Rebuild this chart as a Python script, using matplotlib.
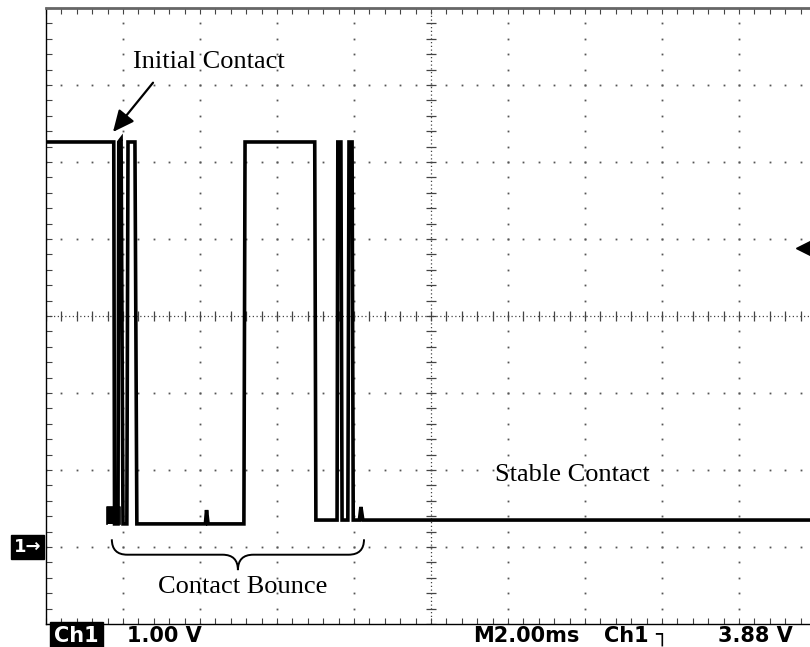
import matplotlib
matplotlib.use("Agg")
import matplotlib.pyplot as plt
import matplotlib.transforms as mtransforms
from matplotlib.path import Path
from matplotlib.patches import PathPatch
import numpy as np

# scope settings: 2 ms/div, 1 V/div, 10 x 8 divisions
t_min, t_max = 0.0, 20.0
v_min, v_max = -1.0, 7.0

# bouncing switch trace (ms, V)
trace_t = [0.00, 1.76, 1.78, 1.87, 1.89, 1.95, 2.00, 2.10, 2.13, 2.31, 2.36,
           4.14, 4.17, 4.21, 5.14, 5.17, 6.98, 7.01, 7.56, 7.58, 7.66, 7.69,
           7.84, 7.87, 7.95, 7.98, 8.14, 8.18, 8.23, 20.0]
trace_v = [5.26, 5.26, 0.30, 0.30, 5.26, 5.30, 0.30, 0.30, 5.26, 5.26, 0.30,
           0.30, 0.48, 0.30, 0.30, 5.26, 5.26, 0.35, 0.35, 5.26, 5.26, 0.35,
           0.35, 5.26, 5.26, 0.35, 0.35, 0.52, 0.35, 0.35]

# little glitch box near the first fall
glitch_t = [1.58, 1.58, 1.92, 1.92]
glitch_v = [0.30, 0.52, 0.52, 0.30]

trigger_level = 3.88
status_left = ["Ch1", "1.00 V"]
status_right = ["M2.00ms", "Ch1", "\u2510", "3.88 V"]

fig = plt.figure(figsize=(8.10, 6.47), dpi=100)
# axes runs a little past the right edge, like the cropped screenshot
ax = fig.add_axes([46 / 810, 23 / 647, 770 / 810, 616 / 647])
ax.set_xlim(t_min, t_max)
ax.set_ylim(v_min, v_max)

for s in ("left", "bottom"):
    ax.spines[s].set_linewidth(1.0)
ax.spines["top"].set_linewidth(2.0)
ax.spines["top"].set_color("#666666")
ax.spines["right"].set_visible(False)

# border ticks every minor division
ax.set_xticks(np.arange(t_min, t_max + 0.01, 2.0))
ax.set_xticks(np.arange(t_min, t_max + 0.01, 0.4), minor=True)
ax.set_yticks(np.arange(v_min, v_max + 0.01, 1.0))
ax.set_yticks(np.arange(v_min, v_max + 0.01, 0.2), minor=True)
ax.tick_params(which="both", direction="in", top=True, bottom=True, left=True,
               right=False, labelbottom=False, labelleft=False,
               length=4, width=0.8, color="#444444")

# dotted graticule
minor_t = np.arange(t_min, t_max + 0.01, 0.4)
minor_v = np.arange(v_min, v_max + 0.01, 0.2)
dot_kw = dict(ls="none", marker="s", ms=1.3, mew=0, color="#555555")
for v in range(0, 7):
    if v == 3:
        continue
    ax.plot(minor_t, np.full_like(minor_t, v), **dot_kw)
for t in range(2, 20, 2):
    if t == 10:
        continue
    ax.plot(np.full_like(minor_v, t), minor_v, **dot_kw)

# centre cross lines with ticks
ax.axhline(3, ls=(0, (1, 2)), lw=0.9, color="#444444")
ax.axvline(10, ls=(0, (1, 2)), lw=0.9, color="#444444")
ax.vlines(minor_t, 3 - 0.06, 3 + 0.06, lw=0.9, color="#444444")
ax.hlines(minor_v, 10 - 0.12, 10 + 0.12, lw=0.9, color="#444444")

# the trace
ax.plot(trace_t, trace_v, color="black", lw=2.6, solid_joinstyle="miter")
ax.plot(glitch_t, glitch_v, color="black", lw=1.2)
ax.fill_between([1.58, 1.74], 0.30, 0.52, color="black", lw=0)

# annotations
serif = dict(family="Liberation Serif", fontsize=19, color="black")
ax.text(4.23, 6.30, "Initial Contact", ha="center", va="center", **serif)
ax.annotate("", xy=(1.74, 5.39), xytext=(2.78, 6.03),
            arrowprops=dict(arrowstyle="-|>,head_length=1.3,head_width=0.6",
                            color="black", lw=1.6, shrinkA=0, shrinkB=0))
ax.text(13.66, 0.94, "Stable Contact", ha="center", va="center", **serif)
ax.text(5.12, -0.52, "Contact Bounce", ha="center", va="center", **serif)

# curly brace under the bounce region
x0, x1 = 1.71, 8.26
xc = (x0 + x1) / 2
y_top, y_mid, y_tip = 0.10, -0.10, -0.30
r = 0.40
verts = [(x0, y_top), (x0, y_mid), (x0 + r, y_mid),
         (xc - r, y_mid), (xc, y_mid), (xc, y_tip),
         (xc, y_mid), (xc + r, y_mid),
         (x1 - r, y_mid), (x1, y_mid), (x1, y_top)]
codes = [Path.MOVETO, Path.CURVE3, Path.CURVE3,
         Path.LINETO, Path.CURVE3, Path.CURVE3,
         Path.CURVE3, Path.CURVE3,
         Path.LINETO, Path.CURVE3, Path.CURVE3]
ax.add_patch(PathPatch(Path(verts, codes), fill=False, lw=1.4, color="black"))

# trigger level marker on the right
ax.plot([19.66], [trigger_level], marker="<", ms=10, color="black", clip_on=False)
ax.plot([19.66, 19.9], [trigger_level, trigger_level], color="black", lw=1.5,
        clip_on=False)

# channel 1 ground marker, left of the screen
blend = mtransforms.blended_transform_factory(fig.transFigure, ax.transData)
ax.text(14 / 810, 0.0, "1\u2192", transform=blend, ha="left", va="center",
        color="white", fontsize=13, fontweight="bold", family="DejaVu Sans",
        bbox=dict(boxstyle="square,pad=0.15", fc="black", ec="black"))

# status line
mono = dict(family="DejaVu Sans", fontsize=15, fontweight="bold",
            color="black", va="center")
yb = 11 / 647
fig.text(54 / 810, yb, status_left[0], color="white", ha="left",
         family="DejaVu Sans", fontsize=15, fontweight="bold", va="center",
         bbox=dict(boxstyle="square,pad=0.2", fc="black", ec="black"))
fig.text(127 / 810, yb, status_left[1], ha="left", **mono)
fig.text(473 / 810, yb, status_right[0], ha="left", **mono)
fig.text(604 / 810, yb, status_right[1], ha="left", **mono)
fig.text(655 / 810, yb, status_right[2], ha="left", **mono)
fig.text(718 / 810, yb, status_right[3], ha="left", **mono)

fig.savefig("out.png", dpi=100, facecolor="white")
